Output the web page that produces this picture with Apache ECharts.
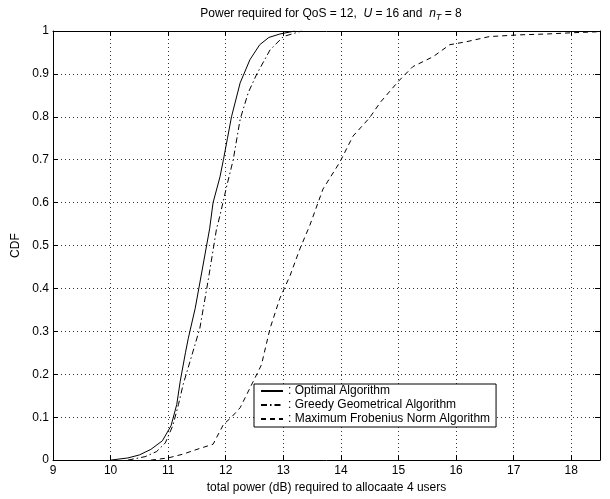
<!DOCTYPE html>
<html>
<head>
<meta charset="utf-8">
<script src="https://cdn.jsdelivr.net/npm/echarts@6/dist/echarts.min.js"></script>
<style>
  html, body { margin: 0; padding: 0; background: #fff; }
  #chart { width: 610px; height: 499px; }
</style>
</head>
<body>
<div id="chart"></div>
<script>
// CDF curves (x = total power in dB, y = CDF)
const optimalX = [10.0, 10.3, 10.5, 10.7, 10.9, 11.05, 11.15, 11.21, 11.3, 11.35, 11.47, 11.6, 11.72, 11.78, 11.9, 11.96, 12.03, 12.1, 12.25, 12.42, 12.59, 12.75, 12.94, 13.2]
const optimalY = [0, 0.005, 0.012, 0.025, 0.045, 0.08, 0.13, 0.184, 0.25, 0.284, 0.354, 0.45, 0.539, 0.6, 0.66, 0.7, 0.75, 0.8, 0.879, 0.933, 0.968, 0.985, 0.993, 1.0]

const greedyX = [10.3, 10.6, 10.8, 10.95, 11.08, 11.18, 11.26, 11.38, 11.55, 11.7, 11.84, 11.9, 12.02, 12.13, 12.25, 12.39, 12.54, 12.77, 13.0, 13.32]
const greedyY = [0, 0.008, 0.02, 0.04, 0.08, 0.13, 0.176, 0.23, 0.307, 0.423, 0.539, 0.57, 0.64, 0.7, 0.794, 0.856, 0.9, 0.956, 0.987, 1.0]

const frobX = [10.7, 11.0, 11.26, 11.5, 11.78, 11.96, 12.1, 12.25, 12.48, 12.62, 12.77, 12.94, 13.12, 13.29, 13.46, 13.69, 13.98, 14.21, 14.5, 14.68, 15.0, 15.25, 15.6, 15.89, 16.18, 16.58, 17.1, 17.57, 18.03, 18.43, 18.5]
const frobY = [0, 0.005, 0.014, 0.025, 0.037, 0.083, 0.1, 0.122, 0.184, 0.222, 0.307, 0.377, 0.431, 0.493, 0.547, 0.632, 0.694, 0.755, 0.798, 0.833, 0.883, 0.917, 0.94, 0.968, 0.975, 0.987, 0.991, 0.993, 0.996, 0.998, 1.0]

const seriesNames = ['Optimal Algorithm', 'Greedy Geometrical Algorithm', 'Maximum Frobenius Norm Algorithm']

const pairs = (xs, ys) => xs.map((x, i) => [x, ys[i]])

const font = 'Liberation Sans, Arial, Helvetica, sans-serif'
const black = '#000'

let mycharts = echarts.init(document.getElementById('chart'))
let option = {
  animation: false,
  backgroundColor: '#fff',
  textStyle: { fontFamily: font },
  title: {
    text: 'Power required for QoS = 12,  {i|U} = 16 and  {i|n}{sub|T} = 8',
    left: 326,
    textAlign: 'center',
    top: 1,
    textStyle: {
      fontSize: 12,
      fontWeight: 'normal',
      color: black,
      fontFamily: font,
      rich: {
        i: { fontStyle: 'italic', fontSize: 12, fontFamily: font, color: black },
        sub: { fontStyle: 'italic', fontSize: 9, fontFamily: font, color: black, verticalAlign: 'bottom', padding: [7, 0, 0, 0] }
      }
    }
  },
  grid: { left: 53, right: 10, top: 31, bottom: 36, containLabel: false },
  legend: {
    orient: 'vertical',
    left: 254,
    top: 384,
    padding: [1, 6, 2, 6],
    itemGap: 2,
    itemWidth: 22,
    itemHeight: 12,
    borderColor: black,
    borderWidth: 1,
    backgroundColor: '#fff',
    data: seriesNames,
    formatter: name => ': ' + name,
    itemStyle: { opacity: 0, borderWidth: 0 },
    textStyle: { fontSize: 12, color: black, fontFamily: font }
  },
  xAxis: [
    {
      type: 'value',
      min: 9,
      max: 18.5,
      interval: 1,
      name: 'total power (dB) required to allocaate 4 users',
      nameLocation: 'middle',
      nameGap: 20,
      nameTextStyle: { fontSize: 12, color: black, fontFamily: font },
      axisLine: { show: true, onZero: false, lineStyle: { color: black, width: 1 } },
      axisTick: { inside: true, length: 5, lineStyle: { color: black } },
      axisLabel: { fontSize: 12, color: black, margin: 5, showMaxLabel: false, fontFamily: font },
      splitLine: { show: true, lineStyle: { color: '#333', type: [1, 3], width: 1 } }
    },
    {
      type: 'value',
      position: 'top',
      min: 9,
      max: 18.5,
      interval: 1,
      axisLine: { show: true, onZero: false, lineStyle: { color: black, width: 1 } },
      axisTick: { inside: true, length: 5, lineStyle: { color: black } },
      axisLabel: { show: false },
      splitLine: { show: false }
    }
  ],
  yAxis: [
    {
      type: 'value',
      min: 0,
      max: 1,
      interval: 0.1,
      name: 'CDF',
      nameLocation: 'middle',
      nameGap: 24,
      nameTextStyle: { fontSize: 12, color: black, fontFamily: font },
      axisLine: { show: true, onZero: false, lineStyle: { color: black, width: 1 } },
      axisTick: { inside: true, length: 5, lineStyle: { color: black } },
      axisLabel: { fontSize: 12, color: black, margin: 4, fontFamily: font, formatter: v => (v === 0 || v === 1) ? String(v) : v.toFixed(1) },
      splitLine: { show: true, lineStyle: { color: '#333', type: [1, 3], width: 1 } }
    },
    {
      type: 'value',
      position: 'right',
      min: 0,
      max: 1,
      interval: 0.1,
      axisLine: { show: true, onZero: false, lineStyle: { color: black, width: 1 } },
      axisTick: { inside: true, length: 5, lineStyle: { color: black } },
      axisLabel: { show: false },
      splitLine: { show: false }
    }
  ],
  series: [
    {
      name: seriesNames[0],
      type: 'line',
      data: pairs(optimalX, optimalY),
      symbol: 'none',
      lineStyle: { color: black, width: 1, type: 'solid' },
      itemStyle: { color: black }
    },
    {
      name: seriesNames[1],
      type: 'line',
      data: pairs(greedyX, greedyY),
      symbol: 'none',
      lineStyle: { color: black, width: 1, type: [6, 3, 1.5, 3] },
      itemStyle: { color: black }
    },
    {
      name: seriesNames[2],
      type: 'line',
      data: pairs(frobX, frobY),
      symbol: 'none',
      lineStyle: { color: black, width: 1, type: [5, 4] },
      itemStyle: { color: black }
    }
  ]
}
mycharts.setOption(option)
window.addEventListener('resize', function() {
  mycharts.resize()
})
</script>
</body>
</html>
